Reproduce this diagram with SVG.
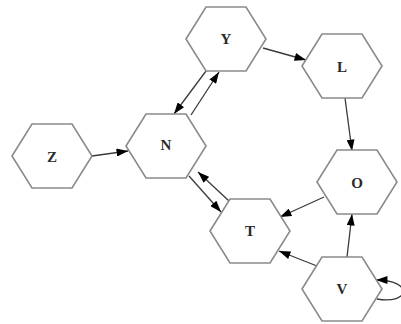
<svg xmlns="http://www.w3.org/2000/svg" width="401" height="324" viewBox="0 0 401 324">
<style>
.n polygon{fill:#fff;stroke:#8a8a8a;stroke-width:1.6}
.n text{font-family:"Liberation Serif",serif;font-size:15px;font-weight:bold;fill:#2a2a2a;text-anchor:middle;dominant-baseline:central}
.e path{fill:none;stroke:#3a3a3a;stroke-width:1.3;marker-end:url(#ah)}
</style>
<defs>
<marker id="ah" viewBox="0 0 10 7" refX="10" refY="3.5" markerWidth="12" markerHeight="8" markerUnits="userSpaceOnUse" orient="auto">
<path d="M0,0 L10,3.5 L0,7 z" fill="#000"/>
</marker>
</defs>
<g id="edges" class="e">
<path d="M92,156 L128,151"/>
<path d="M206,71 L174,114"/>
<path d="M191,115 L219,72"/>
<path d="M189,176 L221,212"/>
<path d="M229,201 L198,172"/>
<path d="M263,48 L306,60"/>
<path d="M345,98 L352,151"/>
<path d="M324,197 L280,217"/>
<path d="M322,268 L279,251"/>
<path d="M347,257 L352,214"/>
<path d="M377,299 C410,305 414,280 376,280"/>
</g>
<g id="Z" class="n"><polygon points="12,156 32,124 72,124 92,156 72,188 32,188"/><text x="52" y="157">Z</text></g>
<g id="N" class="n"><polygon points="126,146 146,114 186,114 206,146 186,178 146,178"/><text x="166" y="145">N</text></g>
<g id="Y" class="n"><polygon points="186,39 206,7 246,7 266,39 246,71 206,71"/><text x="226" y="39">Y</text></g>
<g id="L" class="n"><polygon points="302,66 322,34 362,34 382,66 362,98 322,98"/><text x="342" y="67">L</text></g>
<g id="O" class="n"><polygon points="317,182 337,150 377,150 397,182 377,214 337,214"/><text x="357" y="183">O</text></g>
<g id="T" class="n"><polygon points="210,231 230,199 270,199 290,231 270,263 230,263"/><text x="250" y="231">T</text></g>
<g id="V" class="n"><polygon points="302,289 322,257 362,257 382,289 362,321 322,321"/><text x="342" y="289">V</text></g>
</svg>
